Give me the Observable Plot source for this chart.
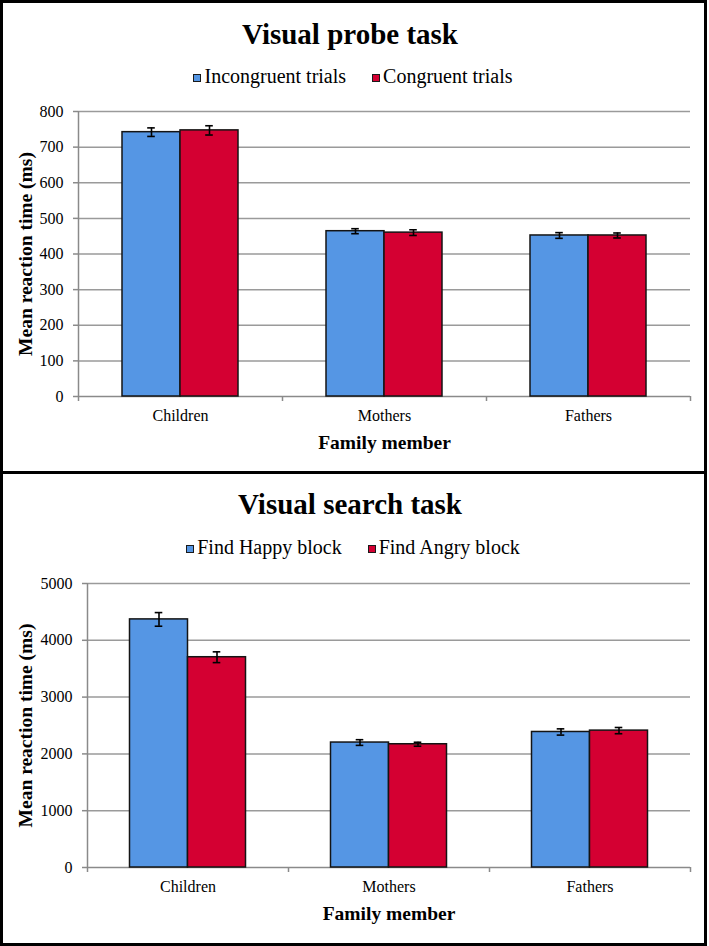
<!DOCTYPE html>
<html>
<head>
<meta charset="utf-8">
<script src="https://cdn.jsdelivr.net/npm/d3@7"></script>
<script src="https://cdn.jsdelivr.net/npm/@observablehq/plot@0.6"></script>
<style>
  body { margin: 0; background: #fff; }
  #wrap { position: relative; width: 709px; height: 946px; font-family: "Liberation Serif", "Times New Roman", serif; color: #000; overflow: hidden; }
  .panel { position: absolute; left: 0; width: 707px; box-sizing: border-box; border: 3px solid #000; }
  .title { position: absolute; left: 0; width: 700px; text-align: center; font-size: 29px; line-height: 29px; font-weight: bold; }
  .legend { position: absolute; left: 0; width: 706px; display: flex; justify-content: center; font-size: 20px; line-height: 20px; white-space: nowrap; }
  .legend .item { margin: 0 13px; }
  .legend .sw { display: inline-block; width: 6px; height: 6px; border: 1px solid #1a1a1a; margin-right: 3px; vertical-align: 1.5px; }
  .chart { position: absolute; left: 0; }
</style>
</head>
<body>
<div id="wrap">
  <div class="panel" style="top:0;height:474px"></div>
  <div class="panel" style="top:471px;height:475px"></div>
  <div class="title" style="top:20px">Visual probe task</div>
  <div class="legend" id="legend1" style="top:66px"></div>
  <div class="chart" id="chart1" style="top:90px"></div>
  <div class="title" style="top:490px">Visual search task</div>
  <div class="legend" id="legend2" style="top:537px"></div>
  <div class="chart" id="chart2" style="top:560px"></div>
</div>
<script>
// ---- data ----
const categories = ["Children", "Mothers", "Fathers"];

const probeSeries = ["Incongruent trials", "Congruent trials"];
const probeIncongruent = [742, 464, 452];
const probeCongruent = [747, 460, 452];
const probeIncongruentErr = [12, 7, 8];
const probeCongruentErr = [13, 8, 7];
const probeTicks = [0, 100, 200, 300, 400, 500, 600, 700, 800];

const searchSeries = ["Find Happy block", "Find Angry block"];
const searchHappy = [4368, 2200, 2386];
const searchAngry = [3702, 2170, 2410];
const searchHappyErr = [120, 50, 55];
const searchAngryErr = [95, 35, 55];
const searchTicks = [0, 1000, 2000, 3000, 4000, 5000];

const seriesColors = ["#5596e4", "#d40032"];
const xLabel = "Family member";
const yLabel = "Mean reaction time (ms)";

function makeRows(series, values, errs) {
  const rows = [];
  categories.forEach((cat, ci) => {
    series.forEach((s, si) => {
      rows.push({ci, cat, si, series: s, value: values[si][ci], err: errs[si][ci]});
    });
  });
  return rows;
}

function legend(el, series) {
  el.innerHTML = series.map((s, i) =>
    `<span class="item"><span class="sw" style="background:${seriesColors[i]}"></span>${s}</span>`).join("");
}

function chart({rows, series, ticks, height, marginTop, marginBottom, marginLeft}) {
  const marginRight = 19;
  const step = (709 - marginLeft - marginRight) / categories.length;
  const BW = 58 / step;       // bar width as fraction of a category
  const cap = 3.8 / step;     // half-width of error cap
  const xc = d => d.ci + 0.5 + (d.si - 0.5) * BW;
  return Plot.plot({
    width: 709,
    height,
    marginTop, marginBottom, marginLeft, marginRight,
    style: {fontFamily: "'Liberation Serif', 'Times New Roman', serif", fontSize: "16px", color: "#000", background: "none", overflow: "visible"},
    x: {domain: [0, categories.length], axis: null},
    y: {domain: [0, ticks[ticks.length - 1]], axis: null},
    color: {domain: series, range: seriesColors},
    marks: [
      Plot.ruleY(ticks.slice(1), {stroke: "#9a9a9a", strokeWidth: 1.5}),
      Plot.axisY(ticks, {label: null, tickSize: 5, tickPadding: 10, stroke: "#8a8a8a", strokeWidth: 1.5, strokeOpacity: 1, fontSize: 16, tickFormat: d => String(d)}),
      Plot.ruleX([0], {stroke: "#8a8a8a", strokeWidth: 1.5}),
      Plot.ruleY([0], {stroke: "#8a8a8a", strokeWidth: 1.5}),
      Plot.axisX(d3.range(categories.length + 1), {label: null, tickSize: 5, tickFormat: () => "", stroke: "#8a8a8a", strokeWidth: 1.5, strokeOpacity: 1}),
      Plot.axisX(categories.map((c, i) => i + 0.5), {label: null, tickSize: 0, tickPadding: 13.6, fontSize: 16, tickFormat: d => categories[Math.floor(d)]}),
      Plot.rect(rows, {
        x1: d => d.ci + 0.5 + (d.si - 1) * BW,
        x2: d => d.ci + 0.5 + d.si * BW,
        y1: 0, y2: "value",
        fill: "series", stroke: "#141414", strokeWidth: 1.5
      }),
      Plot.ruleX(rows, {x: xc, y1: d => d.value - d.err, y2: d => d.value + d.err, stroke: "#000", strokeWidth: 1.6}),
      Plot.ruleY(rows, {y: d => d.value + d.err, x1: d => xc(d) - cap, x2: d => xc(d) + cap, stroke: "#000", strokeWidth: 1.6}),
      Plot.ruleY(rows, {y: d => d.value - d.err, x1: d => xc(d) - cap, x2: d => xc(d) + cap, stroke: "#000", strokeWidth: 1.6}),
      Plot.text([xLabel], {frameAnchor: "bottom", dy: 46, textAnchor: "middle", lineAnchor: "middle", fontWeight: "bold", fontSize: 19.5}),
      Plot.text([yLabel], {frameAnchor: "left", dx: 25 - marginLeft, rotate: -90, textAnchor: "middle", lineAnchor: "middle", fontWeight: "bold", fontSize: 19.5})
    ]
  });
}

legend(document.getElementById("legend1"), probeSeries);
legend(document.getElementById("legend2"), searchSeries);

document.getElementById("chart1").appendChild(chart({
  rows: makeRows(probeSeries, [probeIncongruent, probeCongruent], [probeIncongruentErr, probeCongruentErr]),
  series: probeSeries, ticks: probeTicks,
  height: 372, marginTop: 21, marginBottom: 66, marginLeft: 78
}));

document.getElementById("chart2").appendChild(chart({
  rows: makeRows(searchSeries, [searchHappy, searchAngry], [searchHappyErr, searchAngryErr]),
  series: searchSeries, ticks: searchTicks,
  height: 374, marginTop: 23, marginBottom: 67, marginLeft: 87
}));
</script>
</body>
</html>
